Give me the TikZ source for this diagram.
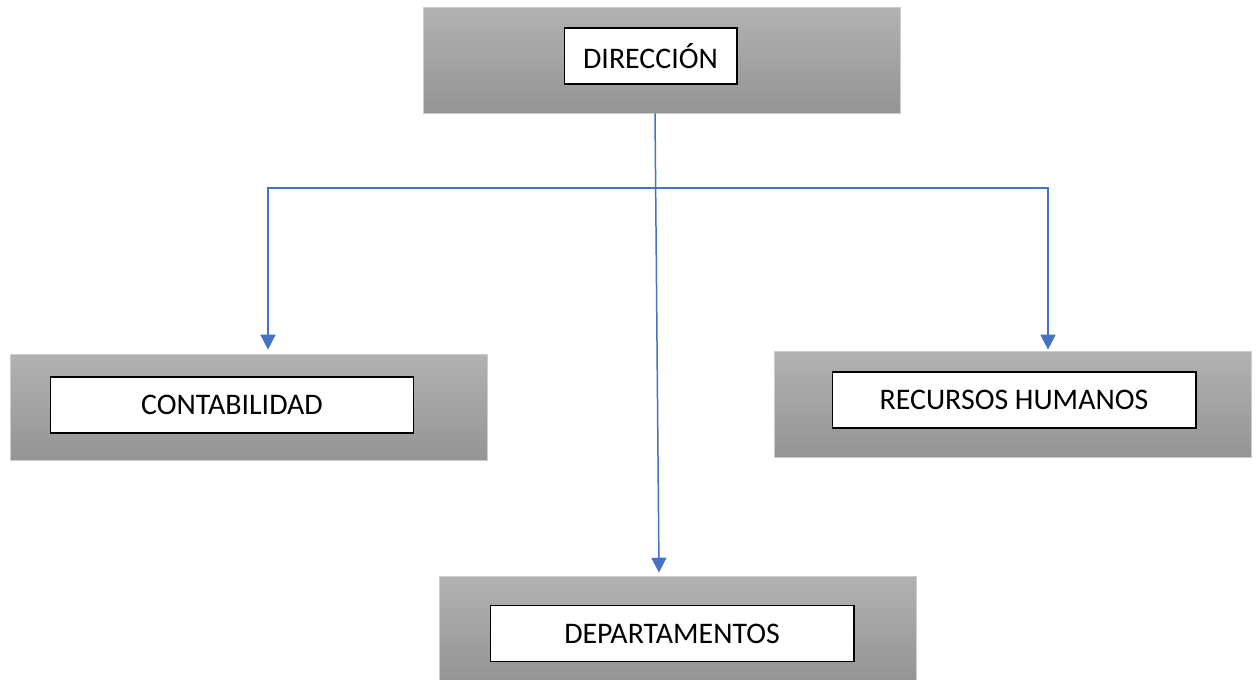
\documentclass[tikz,border=0pt]{standalone}
\usepackage{fontspec}
\setmainfont{Carlito}
\usepackage{tikz}
\usetikzlibrary{arrows.meta}
\definecolor{wordblue}{RGB}{68, 114, 196}
\definecolor{topgray}{RGB}{178, 178, 178}
\definecolor{botgray}{RGB}{148, 148, 148}
\definecolor{edgegray}{RGB}{205, 205, 205}

\begin{document}
\begin{tikzpicture}[x=0.02cm, y=-0.02cm,
		outerbox/.style={draw=edgegray, line width=0.4pt, top color=topgray, bottom color=botgray, minimum width=9.54cm, minimum height=2.12cm, inner sep=0pt},
		innerbox/.style={draw=black, fill=white, line width=0.6pt, minimum height=1.12cm, inner sep=0pt, font=\fontsize{17}{20}\selectfont},
		link/.style={wordblue, line width=0.85pt, -{Triangle[width=8.5pt, length=8.5pt]}}]
			
			\useasboundingbox (0, 0) rectangle (1256, 679);
			
			% NIVEL 1 : DIRECCION
			\node[outerbox] (dirbg) at (661.5, 60) {};
			\node[innerbox, minimum width=3.46cm] (dir) at (650.5, 56) {DIRECCIÓN};
			
			% NIVEL 2 : AREAS
			\node[outerbox] (contbg) at (248.5, 407) {};
			\node[innerbox, minimum width=7.28cm] (cont) at (232, 405) {CONTABILIDAD};
			\node[outerbox] (rhbg) at (1013, 404) {};
			\node[innerbox, minimum width=7.28cm] (rh) at (1014, 400) {RECURSOS HUMANOS};
			
			% NIVEL 3 : DEPARTAMENTOS
			\node[outerbox] (depbg) at (677.5, 629) {};
			\node[innerbox, minimum width=7.28cm] (dep) at (672, 633.5) {DEPARTAMENTOS};
			
			% FLECHAS
			\coordinate (split) at (655, 188);
			\draw[link] ([xshift=-0.13cm]dirbg.south) -- ([xshift=-0.37cm, yshift=0.06cm]depbg.north);
			\draw[link] (split) -| ([xshift=0.39cm, yshift=0.08cm]contbg.north);
			\draw[link] (split) -| ([xshift=0.7cm, yshift=0.02cm]rhbg.north);
			
		\end{tikzpicture}
\end{document}
